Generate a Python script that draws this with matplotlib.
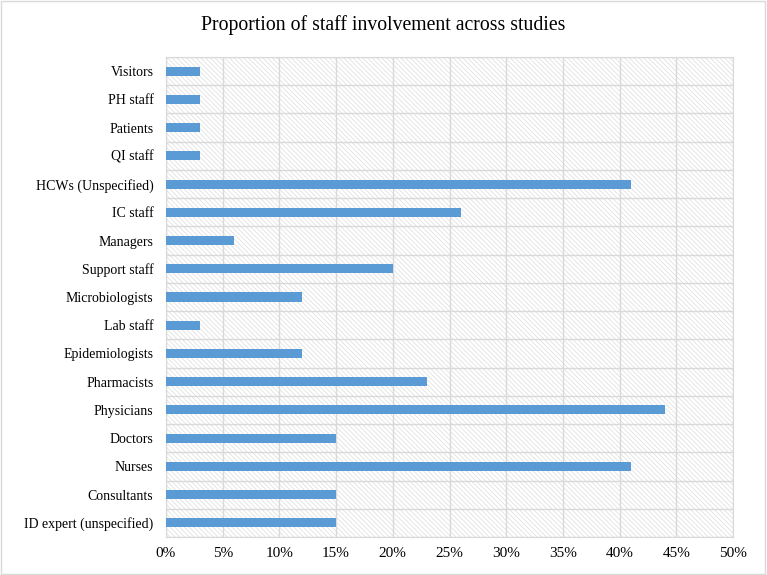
import matplotlib
matplotlib.use("Agg")
import matplotlib.pyplot as plt
from matplotlib.ticker import FuncFormatter, MultipleLocator

categories = ["ID expert (unspecified)", "Consultants", "Nurses", "Doctors", "Physicians",
              "Pharmacists", "Epidemiologists", "Lab staff", "Microbiologists", "Support staff",
              "Managers", "IC staff", "HCWs (Unspecified)", "QI staff", "Patients", "PH staff", "Visitors"]
values = [15, 15, 41, 15, 44, 23, 12, 3, 12, 20, 6, 26, 41, 3, 3, 3, 3]
title = "Proportion of staff involvement across studies"

plt.rcParams['font.family'] = ['Liberation Serif', 'DejaVu Serif']
plt.rcParams['hatch.linewidth'] = 0.5
plt.rcParams['hatch.color'] = '#dcdcdc'

fig = plt.figure(figsize=(7.67, 5.75), dpi=100)
ax = fig.add_axes([166/767, 1-537/575, (733-166)/767, (537-57)/575])

ax.patch.set_facecolor('white')
ax.patch.set_hatch('\\' * 7)
ax.patch.set_edgecolor('#dcdcdc')

y = list(range(len(categories)))
ax.barh(y, values, height=0.32, color='#5b9bd5', zorder=3)
ax.set_yticks(y)
ax.set_yticklabels(categories, fontsize=10)
ax.set_ylim(-0.5, len(categories)-0.5)
ax.set_xlim(0, 50)
ax.xaxis.set_major_locator(MultipleLocator(5))
ax.xaxis.set_major_formatter(FuncFormatter(lambda v, p: f"{int(v)}%"))
ax.tick_params(axis='x', labelsize=11, length=0, pad=7)
ax.tick_params(axis='y', length=0, pad=9)
ax.set_yticks([i - 0.5 for i in range(len(categories)+1)], minor=True)
ax.grid(True, axis='x', which='major', color='#d9d9d9', lw=1, zorder=1)
ax.grid(True, axis='y', which='minor', color='#d9d9d9', lw=1, zorder=1)
ax.tick_params(axis='y', which='minor', length=0)
for s in ax.spines.values():
    s.set_color('#d9d9d9')

fig.text(0.5, 1-25/575, title, ha='center', va='center', fontsize=14.2)
fig.patches.append(plt.Rectangle((0.001, 0.001), 0.997, 0.997, transform=fig.transFigure,
                                 fill=False, edgecolor='#d9d9d9', lw=1))
fig.savefig("out.png", dpi=100)
